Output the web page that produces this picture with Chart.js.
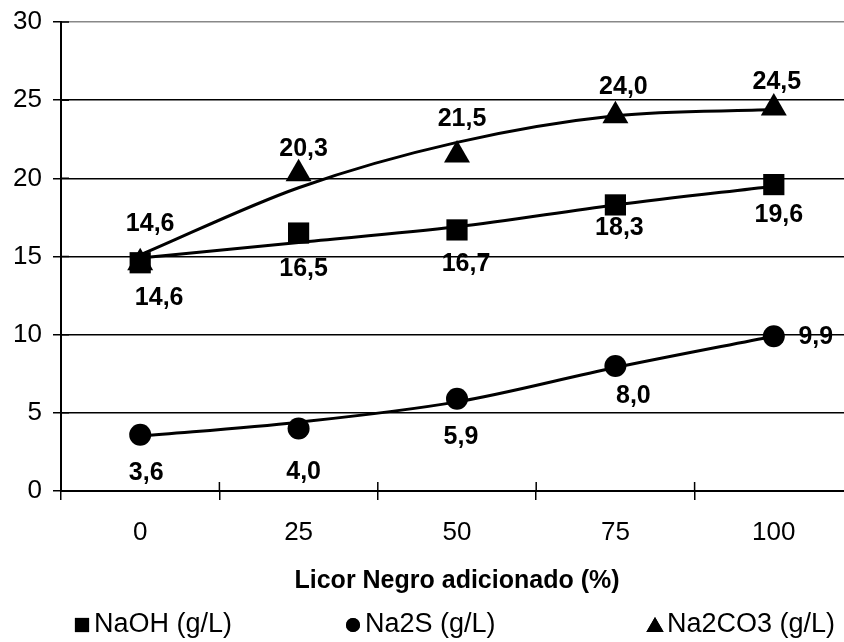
<!DOCTYPE html>
<html>
<head>
<meta charset="utf-8">
<script src="https://cdn.jsdelivr.net/npm/chart.js@4/dist/chart.umd.min.js"></script>
<style>
  html, body { margin: 0; padding: 0; background: #fff; overflow: hidden; }
  canvas { display: block; }
</style>
</head>
<body>
<canvas id="chart" width="868" height="642"></canvas>
<script>
// categorías del eje X (Licor Negro adicionado %)
const categories = ['0', '25', '50', '75', '100'];

// valores medidos (g/L)
const naoh = [14.6, 16.5, 16.7, 18.3, 19.6];
const na2s = [3.6, 4.0, 5.9, 8.0, 9.9];
const na2co3 = [14.6, 20.3, 21.5, 24.0, 24.5];

// líneas de tendencia
const naohTrend = [14.9, 15.9, 16.9, 18.3, 19.5];
const na2sTrend = [3.5, 4.4, 5.7, 7.9, 9.9];
const na2co3Trend = [15.1, 19.4, 22.3, 24.0, 24.4];

// eje Y
const yMin = 0, yMax = 30, yStep = 5;

const FONT = "'Liberation Sans', Arial, sans-serif";

// desplazamiento de las etiquetas de datos (px) respecto al marcador
const labelOffsets = {
    naoh:   [[19, 35], [5, 36], [9, 34], [4, 23], [5, 31]],
    na2s:   [[6, 38], [5, 44], [4, 38], [18, 30], [42, 1]],
    na2co3: [[10, -39], [5, -25], [5, -36], [8, -29], [3, -26]]
};

// posición de la leyenda
const legendX = [82, 353, 655];
const legendY = 625;

const fmt = v => v.toFixed(1).replace('.', ',');

function pointSet(label, data, style, radius, key) {
    return {
        label, data, key,
        showLine: false,
        pointStyle: style,
        pointRadius: radius,
        pointBackgroundColor: '#000',
        pointBorderColor: '#000',
        pointBorderWidth: 0,
        order: 0
    };
}

function trendSet(data) {
    return {
        label: '', data, trend: true,
        borderColor: '#000',
        borderWidth: 3,
        pointRadius: 0,
        fill: false,
        cubicInterpolationMode: 'monotone',
        order: 1
    };
}

// etiquetas de valores
const dataLabels = {
    id: 'dataLabels',
    afterDatasetsDraw(chart) {
        const ctx = chart.ctx;
        ctx.save();
        ctx.font = `bold 25px ${FONT}`;
        ctx.fillStyle = '#000';
        ctx.textAlign = 'center';
        ctx.textBaseline = 'middle';
        chart.data.datasets.forEach((ds, i) => {
            if (ds.trend) return;
            const meta = chart.getDatasetMeta(i);
            meta.data.forEach((pt, j) => {
                const [dx, dy] = labelOffsets[ds.key][j];
                ctx.fillText(fmt(ds.data[j]), pt.x + dx, pt.y + dy);
            });
        });
        ctx.restore();
    }
};

// marcas interiores de los ejes
const innerTicks = {
    id: 'innerTicks',
    afterDatasetsDraw(chart) {
        const { ctx, chartArea: a, scales } = chart;
        ctx.save();
        ctx.strokeStyle = '#000';
        ctx.lineWidth = 1.5;
        ctx.beginPath();
        for (let v = yMin; v <= yMax; v += yStep) {
            const y = scales.y.getPixelForValue(v);
            ctx.moveTo(a.left, y);
            ctx.lineTo(a.left + 8, y);
        }
        const w = (a.right - a.left) / categories.length;
        for (let i = 1; i < categories.length; i++) {
            const x = a.left + i * w;
            ctx.moveTo(x, a.bottom);
            ctx.lineTo(x, a.bottom - 9);
        }
        ctx.stroke();
        ctx.restore();
    }
};

// leyenda inferior
const bottomLegend = {
    id: 'bottomLegend',
    afterDraw(chart) {
        const ctx = chart.ctx;
        const pts = chart.data.datasets.filter(d => !d.trend);
        ctx.save();
        ctx.font = `27px ${FONT}`;
        ctx.textBaseline = 'middle';
        ctx.textAlign = 'left';
        pts.forEach((ds, i) => {
            ctx.fillStyle = '#000';
            const r = ds.pointStyle === 'circle' ? 7 : 10;
            Chart.helpers.drawPoint(ctx, { pointStyle: ds.pointStyle, radius: r, rotation: 0, borderWidth: 0 },
                legendX[i], legendY + (ds.pointStyle === 'triangle' ? 2 : 0));
            ctx.fill();
            ctx.fillText(ds.label, legendX[i] + 12, legendY);
        });
        ctx.restore();
    }
};

new Chart(document.getElementById('chart'), {
    type: 'line',
    data: {
        labels: categories,
        datasets: [
            pointSet('NaOH (g/L)', naoh, 'rect', 15, 'naoh'),
            pointSet('Na2S (g/L)', na2s, 'circle', 11, 'na2s'),
            pointSet('Na2CO3 (g/L)', na2co3, 'triangle', 15, 'na2co3'),
            trendSet(naohTrend),
            trendSet(na2sTrend),
            trendSet(na2co3Trend)
        ]
    },
    options: {
        responsive: false,
        animation: false,
        events: [],
        layout: { padding: { top: 22, right: 7, bottom: 46, left: 0 } },
        plugins: {
            legend: { display: false },
            tooltip: { enabled: false }
        },
        scales: {
            x: {
                type: 'category',
                offset: true,
                grid: { offset: true, drawOnChartArea: false, drawTicks: true, tickLength: 9, color: '#000', lineWidth: 1.5 },
                border: { display: true, color: '#000', width: 2 },
                ticks: { color: '#000', font: { family: FONT, size: 26 }, padding: 17, maxRotation: 0 },
                title: {
                    display: true,
                    text: 'Licor Negro adicionado (%)',
                    color: '#000',
                    font: { family: FONT, size: 25, weight: 'bold' },
                    padding: { top: 0, bottom: 0 }
                },
                afterFit: s => { s.height = 105; s.paddingLeft = 0; s.paddingRight = 0; }
            },
            y: {
                min: yMin, max: yMax,
                ticks: { stepSize: yStep, color: '#000', font: { family: FONT, size: 26 }, padding: 11 },
                grid: {
                    color: c => (c.tick && c.tick.value === yMax) ? '#888' : '#000',
                    tickColor: '#000',
                    lineWidth: 1.5,
                    tickLength: 8
                },
                border: { display: true, color: '#000', width: 2 },
                afterFit: s => { s.width = 61; s.paddingTop = 0; s.paddingBottom = 0; }
            }
        }
    },
    plugins: [innerTicks, dataLabels, bottomLegend]
});
</script>
</body>
</html>
